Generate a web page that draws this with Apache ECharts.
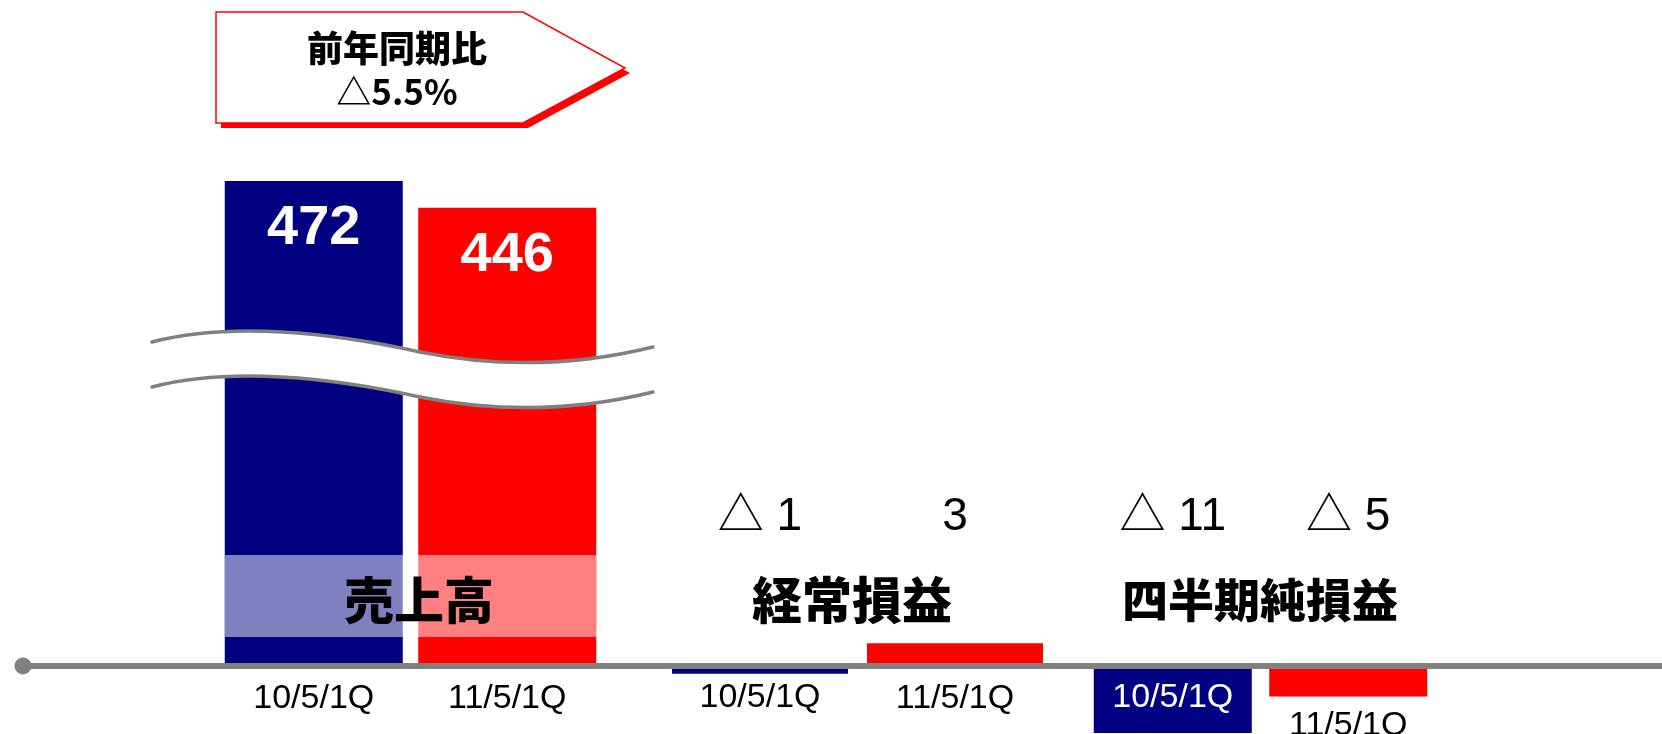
<!DOCTYPE html>
<html>
<head>
<meta charset="utf-8">
<script src="https://cdn.jsdelivr.net/npm/echarts@6/dist/echarts.min.js"></script>
<style>
  html, body { margin: 0; padding: 0; background: #fff; }
  #chart { width: 1662px; height: 734px; }
</style>
</head>
<body>
<div id="chart"></div>
<script>
  // values (△ = minus)
  const periods = ['10/5/1Q', '11/5/1Q']
  const sales = [472, 446]
  const ordinaryIncome = [-1, 3]
  const netIncome = [-11, -5]
  const groupNames = ['売上高', '経常損益', '四半期純損益']
  const yoyText = ['前年同期比', '△5.5%']
  const periodColors = ['#000080', '#ff0000']

  const SANS = "'Liberation Sans', 'Noto Sans CJK JP', sans-serif"
  const CJK = "'Noto Sans CJK JP', sans-serif"

  const fmt = v => (v < 0 ? '△ ' + (-v) : String(v))
  const coloredBars = (vals, labels) => vals.map((v, i) => ({
    value: v,
    itemStyle: { color: periodColors[i] },
    ...(labels && labels[i] ? { label: labels[i] } : {}),
  }))

  // period name under each bar
  const periodLabel = {
    show: true,
    position: 'bottom',
    distance: 16,
    color: '#000',
    fontFamily: SANS,
    fontSize: 34,
    formatter: p => p.name,
  }

  const valueTopAxis = (gridIndex, vals) => ({
    type: 'category',
    gridIndex: gridIndex,
    position: 'top',
    data: periods,
    axisLine: { show: false, onZero: false },
    axisTick: { show: false },
    axisLabel: {
      interval: 0,
      margin: 4,
      color: '#000',
      fontFamily: SANS,
      fontSize: 46,
      formatter: (v, i) => fmt(vals[i]),
    },
  })
  const plainAxis = gridIndex => ({
    type: 'category',
    gridIndex: gridIndex,
    data: periods,
    axisLine: { show: false },
    axisTick: { show: false },
    axisLabel: { show: false },
  })

  // wavy "break" across the sales bars
  const wave = (dy, stroke, width, z) => [
    [152, 342, 230, 322, 330, 332, 420, 352],
    [420, 352, 500, 368, 580, 365, 653, 347],
  ].map(p => ({
    type: 'bezierCurve',
    z: z,
    shape: { x1: p[0], y1: p[1] + dy, cpx1: p[2], cpy1: p[3] + dy, cpx2: p[4], cpy2: p[5] + dy, x2: p[6], y2: p[7] + dy },
    style: { stroke: stroke, lineWidth: width, fill: 'none', lineCap: 'round' },
  }))

  const text = (str, x, y, size, weight) => ({
    type: 'text',
    z: 8,
    x: x,
    y: y,
    style: {
      text: str,
      fontFamily: CJK,
      fontWeight: weight,
      fontSize: size,
      fill: '#000',
      align: 'center',
      verticalAlign: 'middle',
      textAlign: 'center',
      textVerticalAlign: 'middle',
    },
  })

  const chart = echarts.init(document.getElementById('chart'))
  chart.setOption({
    animation: false,
    backgroundColor: '#fff',
    grid: [
      { left: 217, top: 181, width: 387, height: 485, outerBoundsMode: 'none' },
      { left: 662.5, top: 544, width: 390, height: 244, outerBoundsMode: 'none' },
      { left: 1085, top: 544, width: 351, height: 244, outerBoundsMode: 'none' },
      { left: 23, top: 100, right: 0, height: 566, outerBoundsMode: 'none' },
    ],
    xAxis: [
      {
        type: 'category',
        gridIndex: 0,
        data: periods,
        axisLine: { show: false },
        axisTick: { show: false },
        axisLabel: { interval: 0, margin: 16, color: '#000', fontFamily: SANS, fontSize: 34 },
      },
      plainAxis(1),
      valueTopAxis(1, ordinaryIncome),
      plainAxis(2),
      valueTopAxis(2, netIncome),
      {
        type: 'value',
        gridIndex: 3,
        min: 0,
        max: 1,
        z: 5,
        axisLine: {
          show: true,
          symbol: ['circle', 'none'],
          symbolSize: [17, 17],
          lineStyle: { color: '#808080', width: 6 },
        },
        axisTick: { show: false },
        axisLabel: { show: false },
        splitLine: { show: false },
      },
    ],
    yAxis: [
      { type: 'value', gridIndex: 0, min: 0, max: 'dataMax', show: false },
      { type: 'value', gridIndex: 1, min: -16, max: 16, show: false },
      { type: 'value', gridIndex: 2, min: -20, max: 20, show: false },
      { type: 'value', gridIndex: 3, show: false },
    ],
    series: [
      {
        type: 'bar',
        xAxisIndex: 0,
        yAxisIndex: 0,
        barWidth: 178,
        data: coloredBars(sales),
        label: {
          show: true,
          position: 'insideTop',
          distance: 20,
          color: '#fff',
          fontFamily: SANS,
          fontWeight: 'bold',
          fontSize: 56,
        },
      },
      {
        type: 'bar',
        xAxisIndex: 1,
        yAxisIndex: 1,
        barWidth: 176,
        data: coloredBars(ordinaryIncome, [{ distance: 7 }]),
        label: periodLabel,
      },
      {
        type: 'bar',
        xAxisIndex: 3,
        yAxisIndex: 2,
        barWidth: 158,
        z: 3,
        data: coloredBars(netIncome, [{ position: 'insideTop', distance: 15, color: '#fff' }, { distance: 12 }]),
        label: periodLabel,
      },
    ],
    graphic: {
      elements: [
        // light band behind 売上高
        { type: 'rect', z: 3, shape: { x: 225, y: 555, width: 371, height: 82 }, style: { fill: 'rgba(255,255,255,0.5)' } },
        ...wave(22.5, '#fff', 43, 4),
        ...wave(0, '#808080', 3.5, 5),
        ...wave(45, '#808080', 3.5, 5),
        text(groupNames[0], 419, 600, 50, 900),
        text(groupNames[1], 852, 600, 50, 900),
        text(groupNames[2], 1260, 600, 46, 900),
        // 前年同期比 callout
        {
          type: 'polygon',
          z: 6,
          shape: { points: [[221, 17], [528, 17], [630, 73], [528, 128], [221, 128]] },
          style: { fill: '#ff0000' },
        },
        {
          type: 'polygon',
          z: 7,
          shape: { points: [[216, 12], [523, 12], [625, 68], [523, 123], [216, 123]] },
          style: { fill: '#fff', stroke: '#ff0000', lineWidth: 1.5 },
        },
        text(yoyText[0], 397, 48, 36, 900),
        text(yoyText[1], 397, 92, 35, 'bold'),
      ],
    },
  })
</script>
</body>
</html>
